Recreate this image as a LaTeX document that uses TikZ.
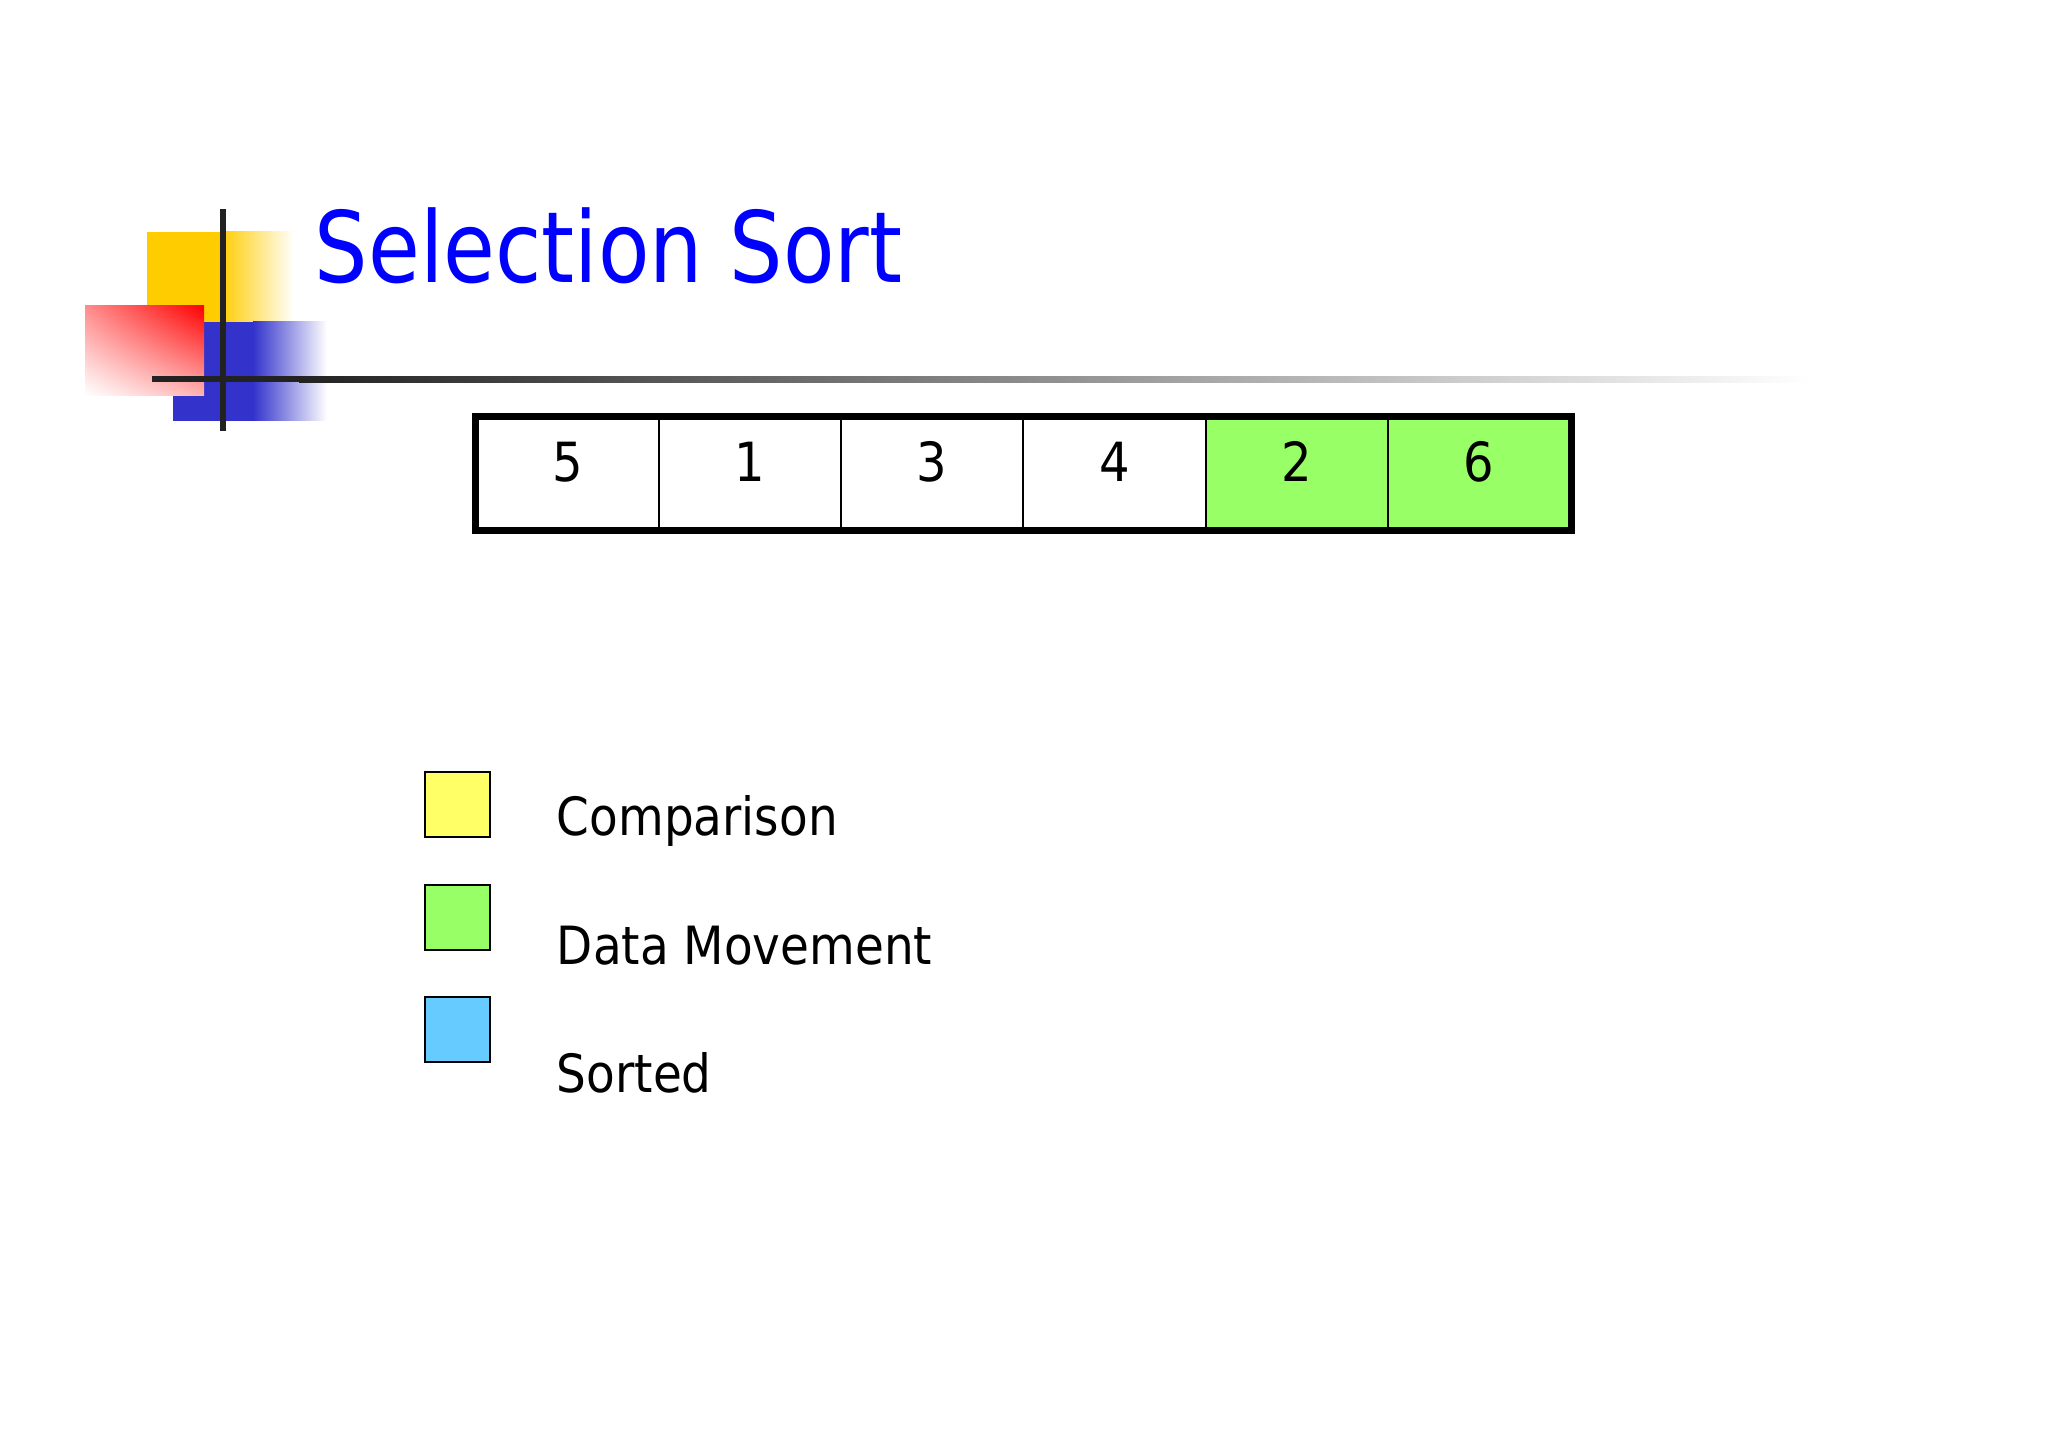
\documentclass[tikz,border=0pt]{standalone}
\usepackage{fontspec}
\usetikzlibrary{shadings}
\setmainfont{DejaVu Sans}[FakeStretch=0.89]
\newfontfamily\titlefont{DejaVu Sans}[FakeStretch=0.855]
\definecolor{logoyellow}{HTML}{FFCC00}
\definecolor{logoblue}{HTML}{3333CC}
\definecolor{logored}{HTML}{FF0000}
\definecolor{linedark}{HTML}{222222}
\definecolor{titleblue}{HTML}{0000FF}
\definecolor{movegreen}{HTML}{99FF66}
\definecolor{cmpyellow}{HTML}{FFFF66}
\definecolor{sortblue}{HTML}{66CCFF}
\begin{document}
\begin{tikzpicture}[x=0.5pt,y=-0.5pt,
  cell/.style={draw=black, line width=1pt, minimum width=91.15pt, minimum height=56pt, inner sep=0pt, anchor=center},
  digit/.style={anchor=base, inner sep=0pt, font=\fontsize{27}{32}\selectfont},
  legbox/.style={draw=black, line width=0.9pt, minimum size=32.5pt, inner sep=0pt, anchor=center},
  legtext/.style={anchor=base west, inner sep=0pt, font=\fontsize{26.35}{32}\selectfont}]
\useasboundingbox (0,0) rectangle (2048,1448);
\fill[white] (0,0) rectangle (2048,1448);
% logo
\fill[logoyellow] (146.7,231.7) rectangle (221,330);
\shade[left color=logoyellow, right color=white] (220,231.7) rectangle (294,330);
\fill[logoblue] (172.7,321.7) rectangle (254,420.7);
\shade[left color=logoblue, right color=white] (253,321.7) rectangle (327,420.7);
\shade[upper left=logored!45!white, upper right=logored, lower left=white, lower right=logored!30!white] (85,305.7) rectangle (204,395);
\fill[linedark] (151.7,376.3) rectangle (300,382.3);
\shade[left color=linedark, right color=white] (299,376.3) rectangle (1810,382.3);
\fill[linedark] (219.5,209) rectangle (226,430.7);
% title
\node[anchor=base west, inner sep=0pt, text=titleblue, font=\titlefont\fontsize{49.25}{59}\selectfont] (title) at (314.5,282.3) {Selection Sort};
% array
\node[cell] (c1) at (567.65,473.5) {};
\node[cell] (c2) at (749.95,473.5) {};
\node[cell] (c3) at (932.25,473.5) {};
\node[cell] (c4) at (1114.55,473.5) {};
\node[cell, fill=movegreen] (c5) at (1296.85,473.5) {};
\node[cell, fill=movegreen] (c6) at (1479.15,473.5) {};
\draw[line width=3.25pt] (c1.north west) rectangle (c6.south east);
\node[digit] (d1) at ([yshift=-3.75pt]c1.center) {5};
\node[digit] (d2) at ([yshift=-3.75pt]c2.center) {1};
\node[digit] (d3) at ([yshift=-3.75pt]c3.center) {3};
\node[digit] (d4) at ([yshift=-3.75pt]c4.center) {4};
\node[digit] (d5) at ([yshift=-3.75pt]c5.center) {2};
\node[digit] (d6) at ([yshift=-3.75pt]c6.center) {6};
% legend
\node[legbox, fill=cmpyellow] (l1) at (457.4,804.7) {};
\node[legbox, fill=movegreen] (l2) at (457.4,917.2) {};
\node[legbox, fill=sortblue] (l3) at (457.4,1029.7) {};
\node[legtext] (t1) at (556.5,835.7) {Comparison};
\node[legtext] (t2) at (556.5,964) {Data Movement};
\node[legtext] (t3) at (556.5,1092.7) {Sorted};
\end{tikzpicture}
\end{document}
